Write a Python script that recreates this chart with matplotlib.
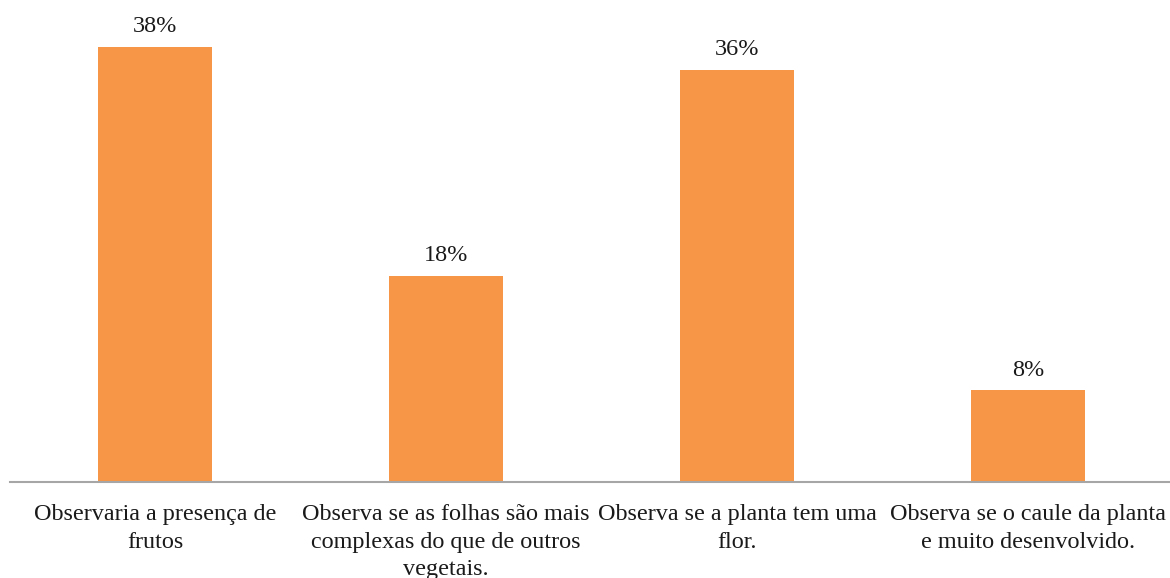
import matplotlib.pyplot as plt

categorias = [
    "Observaria a presença de\nfrutos",
    "Observa se as folhas são mais\ncomplexas do que de outros\nvegetais.",
    "Observa se a planta tem uma\nflor.",
    "Observa se o caule da planta\ne muito desenvolvido.",
]
percentuais = [38, 18, 36, 8]

plt.rcParams['font.family'] = ['Liberation Serif', 'DejaVu Serif']

fig = plt.figure(figsize=(11.7, 5.78), dpi=100)
ax = fig.add_axes([9.5 / 1170, 96 / 578, 1164 / 1170, 458 / 578])

x = range(len(categorias))
barras = ax.bar(x, percentuais, width=0.395, color="#F79646")

for b, v in zip(barras, percentuais):
    ax.annotate(f"{v}%", (b.get_x() + b.get_width() / 2, v),
                xytext=(0, 7), textcoords="offset points",
                ha="center", va="bottom", fontsize=17.5, color="#1a1a1a",
                annotation_clip=False)

ax.set_xlim(-0.5, 3.5)
ax.set_ylim(0, 40)
ax.set_xticks(list(x))
ax.set_xticklabels(categorias, fontsize=17.4, color="#1a1a1a", linespacing=1.4)
ax.tick_params(axis="x", length=0, pad=16)
ax.set_yticks([])
for s in ["top", "right", "left"]:
    ax.spines[s].set_visible(False)
ax.spines["bottom"].set_color("#A6A6A6")
ax.spines["bottom"].set_linewidth(1.5)

fig.savefig("out.png", dpi=100)
